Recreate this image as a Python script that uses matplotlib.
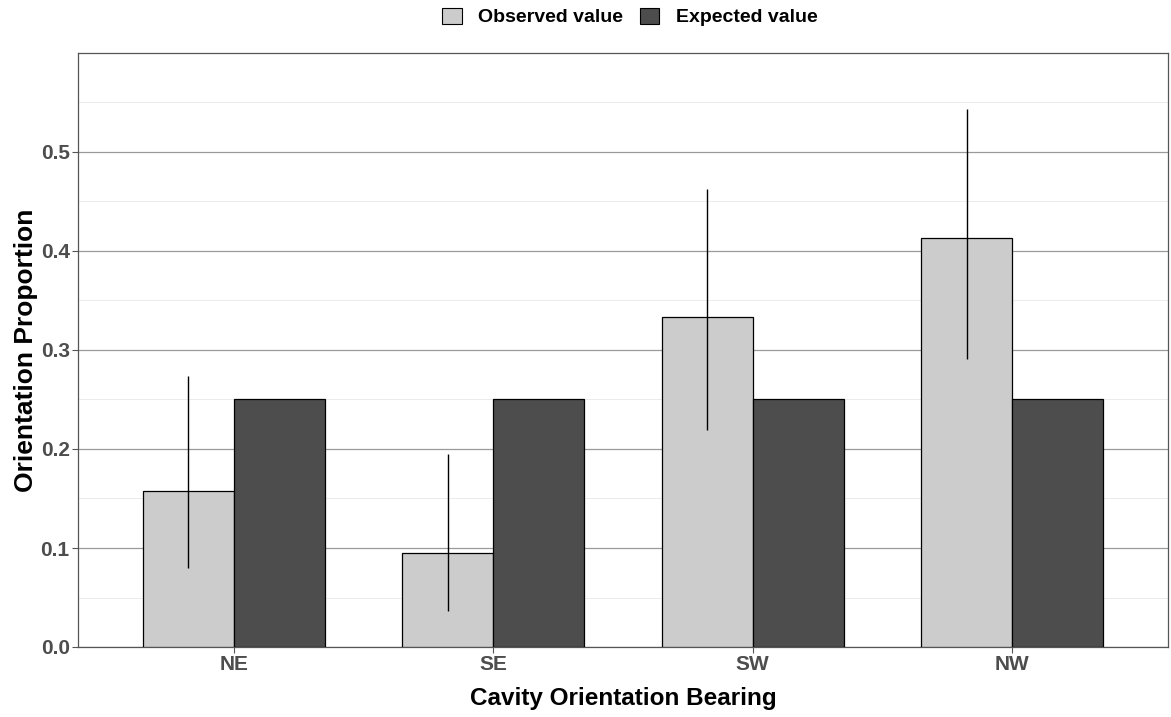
import numpy as np
import matplotlib.pyplot as plt
from matplotlib.patches import Patch

bearings = ["NE", "SE", "SW", "NW"]
observed = [0.158, 0.095, 0.333, 0.413]
expected = [0.25, 0.25, 0.25, 0.25]
err_low = [0.080, 0.036, 0.219, 0.291]
err_high = [0.274, 0.195, 0.463, 0.543]

obs_col = "#CCCCCC"
exp_col = "#4D4D4D"
tick_col = "#4D4D4D"

plt.rcParams['font.family'] = ['Liberation Sans', 'DejaVu Sans']

fig = plt.figure(figsize=(11.71, 7.17), dpi=100)
ax = fig.add_axes([78 / 1171, 1 - 647 / 717, 1090 / 1171, 594 / 717])

x = np.arange(1, len(bearings) + 1)
w = 0.35
ax.bar(x - w / 2, observed, width=w, color=obs_col, edgecolor="black", linewidth=0.9, zorder=3)
ax.bar(x + w / 2, expected, width=w, color=exp_col, edgecolor="black", linewidth=0.9, zorder=3)
ax.vlines(x - w / 2, err_low, err_high, color="black", linewidth=1.0, zorder=4)

ax.set_xlim(0.4, 4.6)
ax.set_ylim(0, 0.6)
ax.set_xticks(x)
ax.set_xticklabels(bearings)
ax.set_yticks(np.arange(0, 0.51, 0.1))
ax.set_yticklabels(["%.1f" % v for v in np.arange(0, 0.51, 0.1)])
ax.set_yticks(np.arange(0.05, 0.6, 0.1), minor=True)

ax.grid(axis="y", which="major", color="#9A9A9A", linewidth=0.9, zorder=0)
ax.grid(axis="y", which="minor", color="#EBEBEB", linewidth=0.7, zorder=0)
ax.set_axisbelow(True)

for s in ax.spines.values():
    s.set_color("#555555")
    s.set_linewidth(0.9)

ax.tick_params(axis="both", which="major", colors="#555555", length=4, width=0.8,
               labelsize=15, labelcolor=tick_col, pad=2)
ax.tick_params(axis="y", which="minor", length=0)
for lab in ax.get_xticklabels() + ax.get_yticklabels():
    lab.set_fontweight("bold")

ax.set_xlabel("Cavity Orientation Bearing", fontsize=17.5, fontweight="bold", labelpad=9)
ax.set_ylabel("Orientation Proportion", fontsize=19, fontweight="bold", labelpad=2)

handles = [Patch(facecolor=obs_col, edgecolor="black", linewidth=0.8, label="Observed value"),
           Patch(facecolor=exp_col, edgecolor="black", linewidth=0.8, label="Expected value")]
fig.legend(handles=handles, loc="center", bbox_to_anchor=(630 / 1171, 1 - 17 / 717), ncol=2,
           frameon=False, prop={"weight": "bold", "size": 14}, handlelength=1.0,
           handleheight=0.88, handletextpad=0.85, columnspacing=0.85, borderpad=0.2)

fig.savefig("out.png", dpi=100)
